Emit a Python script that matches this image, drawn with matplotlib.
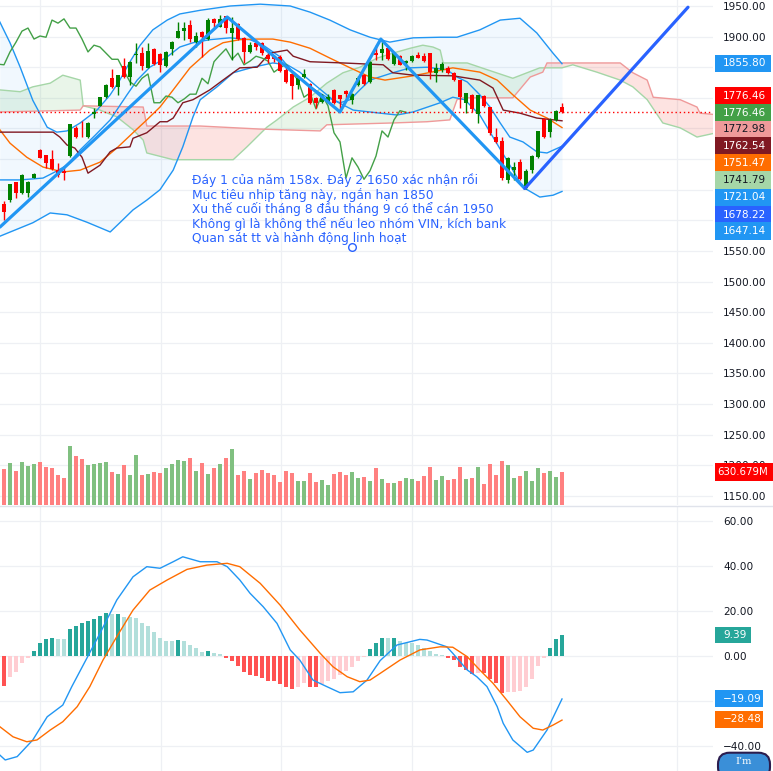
"""Daily candles with Bollinger, Ichimoku, volume and MACD, redrawn from a TradingView screenshot."""

import numpy as np
import matplotlib
matplotlib.use("Agg")
import matplotlib.pyplot as plt
from matplotlib.patches import Rectangle, FancyBboxPatch

# ---- candles (bar 0 is at the left edge, bar 94 is the last one) ----
opens = [1630, 1627, 1633, 1663, 1645, 1645, 1669, 1715, 1707, 1700,
         1682, 1681, 1705, 1751, 1751, 1736, 1774, 1787, 1801, 1832,
         1818, 1852, 1834, 1870, 1873, 1849, 1880, 1872, 1852, 1880,
         1898, 1909, 1919, 1891, 1908, 1896, 1929, 1916, 1934, 1906,
         1921, 1898, 1875, 1890, 1890, 1870, 1867, 1867, 1846, 1839,
         1821, 1834, 1823, 1800, 1793, 1793, 1813, 1805, 1811, 1797,
         1821, 1837, 1826, 1873, 1873, 1881, 1855, 1868, 1857, 1860,
         1870, 1868, 1873, 1841, 1845, 1849, 1841, 1829, 1792, 1805,
         1774, 1803, 1785, 1736, 1730, 1666, 1682, 1695, 1653, 1682,
         1703, 1765, 1744, 1764, 1785]
highs = [1635, 1632, 1660, 1663, 1675, 1664, 1677, 1716, 1707, 1715,
         1694, 1687, 1758, 1754, 1762, 1760, 1783, 1802, 1822, 1847,
         1838, 1865, 1860, 1890, 1883, 1890, 1881, 1873, 1876, 1893,
         1924, 1924, 1927, 1908, 1909, 1930, 1930, 1935, 1934, 1932,
         1922, 1899, 1891, 1895, 1891, 1878, 1870, 1870, 1854, 1839,
         1834, 1847, 1824, 1801, 1806, 1806, 1814, 1805, 1813, 1808,
         1836, 1839, 1860, 1886, 1895, 1883, 1873, 1870, 1862, 1870,
         1875, 1873, 1873, 1857, 1859, 1852, 1842, 1829, 1808, 1806,
         1805, 1805, 1785, 1751, 1736, 1703, 1695, 1700, 1684, 1707,
         1746, 1767, 1767, 1780, 1792]
lows = [1590, 1600, 1630, 1637, 1643, 1638, 1669, 1701, 1685, 1682,
        1671, 1666, 1704, 1735, 1736, 1734, 1767, 1786, 1799, 1816,
        1805, 1832, 1821, 1857, 1845, 1848, 1853, 1842, 1851, 1870,
        1897, 1894, 1891, 1883, 1867, 1894, 1916, 1915, 1906, 1862,
        1894, 1857, 1873, 1878, 1870, 1857, 1858, 1842, 1824, 1798,
        1814, 1832, 1790, 1783, 1792, 1792, 1790, 1779, 1800, 1790,
        1819, 1821, 1824, 1862, 1862, 1862, 1854, 1854, 1846, 1859,
        1865, 1859, 1831, 1826, 1842, 1839, 1828, 1783, 1775, 1777,
        1759, 1785, 1739, 1726, 1666, 1661, 1666, 1666, 1651, 1677,
        1702, 1734, 1736, 1762, 1775]
closes = [1600, 1614, 1659, 1645, 1674, 1663, 1676, 1702, 1694, 1684,
          1674, 1677, 1757, 1736, 1750, 1759, 1777, 1801, 1821, 1818,
          1837, 1834, 1859, 1872, 1852, 1877, 1855, 1854, 1875, 1891,
          1909, 1914, 1896, 1901, 1899, 1927, 1922, 1929, 1914, 1914,
          1896, 1875, 1886, 1883, 1873, 1863, 1863, 1844, 1826, 1819,
          1832, 1839, 1792, 1792, 1803, 1801, 1792, 1798, 1806, 1806,
          1832, 1823, 1859, 1870, 1880, 1863, 1873, 1854, 1860, 1868,
          1865, 1860, 1842, 1849, 1855, 1841, 1829, 1801, 1808, 1782,
          1805, 1787, 1743, 1728, 1669, 1702, 1687, 1667, 1681, 1705,
          1746, 1736, 1764, 1779, 1776.46]
# volume in millions
volumes = [994, 682, 796, 650, 822, 745, 784, 822, 726, 713,
           573, 516, 1127, 936, 885, 771, 784, 803, 822, 631,
           592, 764, 573, 956, 573, 592, 631, 612, 707, 784,
           860, 841, 892, 650, 803, 592, 707, 784, 898, 1070,
           573, 650, 497, 612, 662, 612, 573, 440, 650, 612,
           459, 459, 612, 440, 478, 382, 592, 631, 573, 631,
           516, 535, 459, 707, 497, 420, 420, 459, 516, 497,
           459, 554, 726, 478, 554, 478, 497, 726, 497, 516,
           726, 401, 784, 573, 841, 764, 516, 554, 650, 459,
           707, 612, 650, 535, 630.679]

# ---- indicator lines (bar position, value) ----
bb_up_bars = [0.3, 2.0, 3.7, 5.8, 8.2, 9.8, 11.5, 13.7, 16.5, 18.7, 20.3, 22.0, 23.7, 25.8,
              28.2, 30.3, 33.7, 38.7, 43.7, 48.7, 52.0, 55.3, 58.7, 62.0, 65.3, 69.2, 73.7,
              76.5, 80.3, 83.7, 87.0, 89.8, 92.5, 94.0]
bb_up = [1924, 1890, 1850, 1796, 1752, 1744, 1746, 1759, 1780, 1805, 1829, 1859, 1886, 1911,
         1927, 1937, 1943, 1950, 1953, 1950, 1940, 1927, 1911, 1899, 1891, 1898, 1899,
         1899, 1911, 1927, 1930, 1906, 1873, 1855.80]
bb_lo_bars = [0.3, 2.8, 5.8, 8.7, 11.5, 14.8, 17.0, 18.7, 20.3, 22.5, 24.8, 27.0, 29.2, 30.8,
              32.5, 33.7, 36.5, 39.2, 42.5, 45.8, 48.2, 50.3, 53.2, 55.8, 59.2, 63.7, 66.5,
              69.2, 73.7, 75.8, 77.8, 80.3, 82.8, 85.3, 87.5, 90.3, 92.5, 94.0]
bb_lo = [1574, 1584, 1596, 1612, 1609, 1597, 1588, 1581, 1596, 1617, 1633, 1650, 1682, 1720,
         1769, 1797, 1818, 1841, 1850, 1857, 1854, 1842, 1818, 1797, 1780, 1775, 1772,
         1777, 1792, 1801, 1797, 1772, 1731, 1690, 1654, 1638, 1641, 1647.14]
basis_bars = [0.3, 2.0, 4.8, 7.5, 10.8, 13.7, 17.0, 19.8, 22.5, 24.8, 27.0, 29.2, 32.0, 35.3,
              37.5, 40.3, 43.2, 45.8, 48.7, 52.0, 55.3, 58.7, 62.0, 64.5, 69.2, 75.8, 80.3,
              83.2, 85.8, 88.7, 91.5, 94.0]
basis = [1748, 1726, 1703, 1687, 1679, 1682, 1695, 1718, 1743, 1764, 1785, 1813, 1849, 1878,
         1890, 1895, 1896, 1896, 1891, 1881, 1865, 1849, 1834, 1829, 1836, 1849, 1842,
         1829, 1805, 1780, 1767, 1751.47]
tenkan_bars = [0.3, 3.7, 7.5, 9.5, 11.5, 13.7, 16.2, 18.7, 21.5, 23.2, 25.3, 28.2, 30.3, 32.5,
               35.3, 38.7, 42.0, 44.2, 47.0, 49.2, 52.0, 54.8, 57.0, 58.7, 60.3, 62.0, 65.8,
               68.7, 71.5, 74.8, 76.5, 78.2, 80.3, 82.0, 83.7, 85.3, 87.5, 89.8, 91.5, 94.0]
tenkan = [1666, 1666, 1669, 1679, 1690, 1715, 1739, 1764, 1805, 1829, 1850, 1867, 1883, 1890,
          1895, 1898, 1895, 1886, 1867, 1841, 1818, 1801, 1792, 1797, 1813, 1829, 1841,
          1849, 1850, 1846, 1834, 1826, 1805, 1785, 1759, 1736, 1728, 1712, 1710, 1721.04]
kijun_bars = [0.3, 9.2, 10.3, 11.5, 12.8, 14.0, 15.0, 17.0, 18.7, 19.8, 22.0, 22.5, 24.8, 27.0,
              28.2, 29.2, 30.8, 32.5, 35.3, 37.5, 40.3, 43.2, 45.3, 48.2, 49.2, 52.0, 57.5,
              64.2, 65.8, 69.2, 75.8, 80.3, 82.5, 84.2, 87.0, 89.8, 94.0]
kijun = [1744, 1744, 1736, 1723, 1718, 1703, 1677, 1690, 1712, 1718, 1720, 1734, 1743, 1761,
         1761, 1767, 1792, 1797, 1813, 1829, 1849, 1850, 1873, 1878, 1868, 1859, 1857,
         1854, 1841, 1837, 1836, 1829, 1816, 1780, 1775, 1767, 1762.54]
span_a_bars = [0.3, 3.7, 5.8, 8.7, 10.8, 13.7, 14.2, 17.0, 19.8, 22.5, 24.2, 24.8, 29.2, 39.2,
               41.5, 44.8, 46.5, 49.2, 52.0, 54.8, 57.5, 60.3, 63.2, 65.8, 68.7, 70.8, 72.5,
               73.7, 74.2, 78.2, 80.3, 85.8, 90.3, 94.0, 95.8, 99.8, 103.7, 105.8, 108.2,
               110.8, 113.7, 116.5, 119.2]
span_a = [1813, 1810, 1818, 1824, 1837, 1829, 1787, 1780, 1769, 1748, 1731, 1710, 1699, 1699,
          1720, 1752, 1764, 1785, 1801, 1824, 1841, 1850, 1865, 1873, 1881, 1886, 1883,
          1878, 1857, 1857, 1850, 1832, 1849, 1849, 1854, 1842, 1829, 1818, 1797,
          1759, 1751, 1736, 1741.79]
span_b_bars = [0.3, 13.7, 14.2, 24.2, 24.8, 33.7, 43.7, 53.7, 54.8, 65.8, 71.5, 75.3, 76.5,
               77.5, 85.8, 88.7, 90.8, 91.5, 103.7, 105.8, 108.2, 109.2, 113.7, 116.5, 117.0,
               119.2]
span_b = [1777, 1780, 1787, 1785, 1754, 1754, 1749, 1746, 1756, 1759, 1761, 1764, 1797,
          1800, 1800, 1834, 1842, 1857, 1857, 1841, 1829, 1801, 1797, 1785, 1775, 1772.98]

# user trend lines (bar position, price)
trend_bars = [0.33, 38.2, 57.0, 63.8, 87.8]
trend_prices = [1589, 1932, 1777, 1896, 1652]
rally_bars = [87.8, 115.0]
rally_prices = [1652, 1948]

# ---- MACD (histogram per bar, lines read at points) ----
macd_hist = [-13.0, -13.3, -9.3, -7.1, -3.1, -0.9, 2.1, 5.6, 7.4, 8.0,
             7.4, 7.4, 11.9, 13.2, 14.5, 15.4, 16.3, 17.6, 19.0, 18.5,
             18.7, 17.2, 17.2, 16.7, 14.5, 13.2, 10.5, 7.9, 6.5, 6.5,
             7.0, 6.5, 4.7, 3.4, 1.6, 2.1, 1.2, 0.7, -0.9, -2.2,
             -4.4, -7.1, -8.4, -8.9, -9.8, -11.1, -11.1, -12.4, -13.8, -14.7,
             -13.8, -12.0, -13.8, -13.8, -12.4, -11.1, -10.2, -8.4, -6.7, -4.9,
             -2.2, -0.4, 3.0, 5.6, 7.9, 7.9, 8.1, 6.5, 5.6, 5.6,
             4.7, 3.4, 2.1, 0.7, 0.3, -0.9, -1.8, -4.9, -6.2, -8.0,
             -7.6, -7.6, -10.2, -12.0, -16.4, -16.0, -15.9, -15.6, -13.8, -10.2,
             -4.4, -0.9, 3.6, 7.4, 9.39]
macd_bars = [0.3, 1.2, 3.2, 5.8, 8.2, 10.8, 12.3, 14.8, 17.0, 19.8, 22.5, 24.8, 27.0, 29.2,
             30.8, 33.7, 36.5, 38.2, 40.3, 42.0, 44.2, 46.5, 48.7, 50.3, 52.5, 54.8, 57.0,
             59.2, 61.5, 63.7, 66.5, 70.3, 71.5, 74.8, 75.8, 78.2, 79.8, 81.5, 83.2, 84.2,
             85.8, 88.2, 89.2, 91.5, 94.0]
macd_line = [-44.0, -46.2, -44.7, -37.3, -27.0, -21.8, -13.6, -1.0, 10.1, 24.9, 35.2, 39.7,
             39.0, 41.9, 44.1, 41.9, 41.9, 39.7, 33.8, 27.9, 21.9, 14.5, 2.7, -1.8, -10.7,
             -13.6, -16.3, -15.9, -10.7, -2.0, 4.9, 7.4, 7.1, 4.1, 1.2, -6.2, -9.2, -13.6,
             -22.5, -29.9, -37.3, -42.8, -41.8, -32.9, -19.09]
signal_bars = [0.3, 2.5, 4.8, 6.5, 8.7, 10.8, 13.2, 15.3, 17.5, 19.8, 22.5, 25.3, 28.2, 31.5,
               34.8, 38.2, 40.3, 43.7, 47.0, 50.3, 53.7, 55.8, 58.2, 60.3, 62.0, 63.7, 67.0,
               70.3, 73.7, 75.8, 78.2, 80.3, 82.5, 84.8, 87.0, 89.2, 90.8, 92.5, 94.0]
signal_line = [-31.4, -35.9, -38.1, -37.3, -32.9, -29.2, -22.5, -13.6, -1.8, 8.6, 20.4, 29.3,
               33.8, 38.5, 40.4, 41.2, 39.7, 32.3, 22.7, 11.6, 1.2, -4.7, -9.2, -11.4, -10.7,
               -7.7, -1.8, 2.7, 4.1, 3.9, -0.3, -6.2, -12.1, -19.6, -27.0, -32.1, -32.9,
               -30.7, -28.48]

note_lines = [
    "Đáy 1 của năm 158x. Đáy 2 1650 xác nhận rồi",
    "Mục tiêu nhịp tăng này, ngắn hạn 1850",
    "Xu thế cuối tháng 8 đầu tháng 9 có thể cán 1950",
    "Không gì là không thể nếu leo nhóm VIN, kích bank",
    "Quan sát tt và hành động linh hoạt",
]

# axis ticks: grid at every step, labels only where the tags leave them visible
price_grid = list(range(1150, 1951, 50))
price_labels = [1950, 1900, 1550, 1500, 1450, 1400, 1350, 1300, 1250, 1200, 1150]
macd_grid = [-40, -20, 0, 20, 40, 60]
macd_labels = [-40, 0, 20, 40, 60]

# right-axis value tags: (text, background, text colour)
price_tags = [
    ("1855.80", "#2196F3", "white"),
    ("1776.46", "#FF0000", "white"),
    ("1776.46", "#43A047", "white"),
    ("1772.98", "#EF9A9A", "#131722"),
    ("1762.54", "#801922", "white"),
    ("1751.47", "#FF6D00", "white"),
    ("1741.79", "#A5D6A7", "#131722"),
    ("1721.04", "#2196F3", "white"),
    ("1678.22", "#2962FF", "white"),
    ("1647.14", "#2196F3", "white"),
]
price_tag_y = [63.5, 96, 112.5, 129.5, 146, 163, 180, 197.5, 214.5, 231]
macd_tags = [("9.39", "#26A69A", 751, 635), ("\u221219.09", "#2196F3", 763, 698.5),
             ("\u221228.48", "#FF6D00", 763, 719.5)]

W, H = 773, 771
UP, DOWN = "#008000", "#FF0000"
GRID = "#EEF0F4"
month_lines = [7.0, 27.17, 47.17, 69.0, 92.17, 113.17]

plt.rcParams["font.family"] = ["DejaVu Sans"]
fig = plt.figure(figsize=(W / 100, H / 100), dpi=100)


def fig_rect(x0, y0, x1, y1):
    return [x0 / W, 1 - y1 / H, (x1 - x0) / W, (y1 - y0) / H]


ax = fig.add_axes(fig_rect(0, 0, 713, 505))
ax_macd = fig.add_axes(fig_rect(0, 506, 713, 771))

x_lim = (2 / 6, 715 / 6)
for a in (ax, ax_macd):
    a.set_xlim(*x_lim)
    for s in a.spines.values():
        s.set_visible(False)
    a.set_xticks([])
    a.yaxis.tick_right()
    a.tick_params(axis="y", length=0, pad=7.2, labelsize=7.6, labelcolor="#131722")
    for m in month_lines:
        a.axvline(m, color=GRID, lw=0.9, zorder=0)

price_lo, price_hi = 1135.1, 1959.8
ax.set_ylim(price_lo, price_hi)
ax.set_yticks(price_labels)
ax.set_yticklabels([f"{v:.2f}" for v in price_labels])
for v in price_grid:
    ax.axhline(v, color=GRID, lw=0.9, zorder=0)

bars = np.arange(len(closes))
o, h, l, c = map(np.array, (opens, highs, lows, closes))
up = c >= o
cols = np.where(up, UP, DOWN)

# volume overlay at the bottom of the price pane
vol_to_price = (price_hi - price_lo) / 505 / 19.1
vol_cols = np.where(up, "#80C080", "#FF8080")
ax.bar(bars, np.array(volumes) * vol_to_price, bottom=price_lo, width=0.78,
       color=vol_cols, zorder=1)

# Bollinger band fill
g = np.linspace(0.3, 94, 600)
ax.fill_between(g, np.interp(g, bb_lo_bars, bb_lo), np.interp(g, bb_up_bars, bb_up),
                color="#2196F3", alpha=0.06, lw=0, zorder=1)

# Ichimoku cloud
gc = np.linspace(0.3, 119.2, 1500)
a_i = np.interp(gc, span_a_bars, span_a)
b_i = np.interp(gc, span_b_bars, span_b)
ax.fill_between(gc, a_i, b_i, where=a_i >= b_i, color="#4CAF50", alpha=0.12, lw=0,
                interpolate=True, zorder=1)
ax.fill_between(gc, a_i, b_i, where=a_i < b_i, color="#F44336", alpha=0.15, lw=0,
                interpolate=True, zorder=1)
ax.plot(span_a_bars, span_a, color="#A5D6A7", lw=1, zorder=2)
ax.plot(span_b_bars, span_b, color="#EF9A9A", lw=1, zorder=2)

ax.plot(bb_up_bars, bb_up, color="#2196F3", lw=1, zorder=2)
ax.plot(bb_lo_bars, bb_lo, color="#2196F3", lw=1, zorder=2)
ax.plot(tenkan_bars, tenkan, color="#2196F3", lw=1, zorder=2)
ax.plot(basis_bars, basis, color="#FF6D00", lw=1, zorder=2)
ax.plot(kijun_bars, kijun, color="#801922", lw=1, zorder=2)
# lagging span: close shifted back 26 bars
ax.plot(bars[:len(closes) - 26], c[26:], color="#43A047", lw=1, zorder=2)

ax.axhline(closes[-1], color="#FF0000", lw=1, ls=(0, (1, 2)), zorder=2)

# candles
ax.vlines(bars, l, h, colors=cols, lw=1, zorder=3)
body_lo = np.minimum(o, c)
body_h = np.maximum(np.abs(c - o), 1.3)
ax.bar(bars, body_h, bottom=body_lo, width=0.75, color=cols, zorder=3)

# drawn trend lines
ax.plot(trend_bars, trend_prices, color="#2196F3", lw=2.3, solid_capstyle="round", zorder=4)
ax.plot(rally_bars, rally_prices, color="#2962FF", lw=2.3, solid_capstyle="round", zorder=4)

# note text
note_x, note_top, note_step = 32.4, 1665.0, 23.5
for k, line in enumerate(note_lines):
    ax.text(note_x, note_top - k * note_step, line, color="#2962FF", fontsize=8.8,
            va="center", ha="left", zorder=5)
ax.plot([59.0], [1557], marker="o", ms=5.5, mfc="white", mec="#2962FF", mew=1, zorder=5)

# MACD pane
ax_macd.set_ylim(-51.1, 66.67)
ax_macd.set_yticks(macd_labels)
ax_macd.set_yticklabels([f"{v:.2f}".replace("-", "\u2212") for v in macd_labels])
for v in macd_grid:
    ax_macd.axhline(v, color=GRID, lw=0.9, zorder=0)
hist_cols = []
for i, v in enumerate(macd_hist):
    prev = macd_hist[i - 1] if i > 0 else v
    if v >= 0:
        hist_cols.append("#26A69A" if v > prev else "#B2DFDB")
    else:
        hist_cols.append("#FFCDD2" if v > prev else "#FF5252")
ax_macd.bar(bars, macd_hist, width=0.8, color=hist_cols, zorder=2)
ax_macd.plot(macd_bars, macd_line, color="#2196F3", lw=1, zorder=3)
ax_macd.plot(signal_bars, signal_line, color="#FF6D00", lw=1, zorder=3)

# pane separator
fig.add_artist(plt.Line2D([0, 1], [1 - 505.5 / H] * 2, color="#E0E3EB", lw=1,
                          transform=fig.transFigure))


def tag(text, yc, bg, fg, x1=771, tx=723, size=7.6, half=8.5):
    # value tag on the price scale, drawn on top of the tick labels
    fig.add_artist(Rectangle((715 / W, 1 - (yc + half) / H), (x1 - 715) / W, 2 * half / H,
                             transform=fig.transFigure, facecolor=bg, edgecolor="none",
                             zorder=5))
    fig.text(tx / W, 1 - yc / H, text, color=fg, fontsize=size, va="center",
             ha="left", zorder=6)


for (txt, bg, fg), yc in zip(price_tags, price_tag_y):
    tag(txt, yc, bg, fg)
tag("630.679M", 472, "#FF0000", "white", x1=773, tx=717, size=7.3, half=8.8)
for txt, bg, x1, yc in macd_tags:
    tag(txt, yc, bg, "white", x1=x1, half=8.3)

# small floating button at the bottom right corner
fig.add_artist(FancyBboxPatch((718 / W, -0.01), 52 / W, 26 / H,
                              boxstyle="round,pad=0,rounding_size=0.015",
                              transform=fig.transFigure, facecolor="#3A8FD8",
                              edgecolor="#2B1D4E", lw=1.5, zorder=7))
fig.text(744 / W, 1 - 761 / H, "I’m", color="white", fontsize=7, family="DejaVu Serif",
         ha="center", va="center", zorder=8)

fig.savefig("out.png", dpi=100)
